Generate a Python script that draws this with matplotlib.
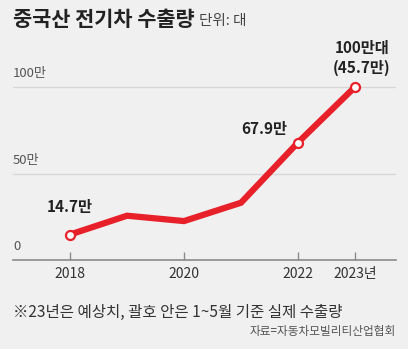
#
# 중국산 전기차 수출량 (line chart, 2018-2023)
#
import matplotlib
matplotlib.use("Agg")
import matplotlib.pyplot as plt

plt.rcParams['font.family'] = ['Noto Sans CJK KR', 'DejaVu Sans']

# data (단위: 만 대)
years = [2018, 2019, 2020, 2021, 2022, 2023]
exports = [14.7, 25.6, 22.5, 33.1, 67.9, 100]
tick_years = [2018, 2020, 2022, 2023]
tick_labels = ["2018", "2020", "2022", "2023년"]
ytick_vals = [0, 50, 100]
ytick_labels = ["0", "50만", "100만"]
marked = {2018: "14.7만", 2022: "67.9만", 2023: "100만대\n(45.7만)"}

bg = "#f0f0f0"
red = "#e8202a"

fig = plt.figure(figsize=(4.08, 3.49), dpi=100, facecolor=bg)
W, H = 408, 349
# axes in pixels: x 13..396, y 60..260
ax = fig.add_axes([13 / W, 1 - 260 / H, (396 - 13) / W, (260 - 60) / H])
ax.set_facecolor("none")
ax.set_xlim(2017.0, 2023.72)
ax.set_ylim(0, 200 / 1.73)

for v in ytick_vals[1:]:
    ax.axhline(v, color="#d6d6d6", lw=0.9, zorder=1)
for v, lab in zip(ytick_vals, ytick_labels):
    ax.annotate(lab, (0, v), xycoords=("axes fraction", "data"),
                xytext=(0, 5), textcoords="offset points",
                ha="left", va="bottom", fontsize=9.5, color="#555555")

ax.plot(years, exports, color=red, lw=4.5, solid_capstyle="butt",
        solid_joinstyle="miter", zorder=3)
mx = [y for y in years if y in marked]
my = [exports[years.index(y)] for y in mx]
ax.plot(mx, my, "o", ms=6.5, mfc="white", mec=red, mew=1.6, zorder=4)

ax.annotate(marked[2018], (2018, 14.7), xytext=(0, 14), textcoords="offset points",
            ha="center", va="bottom", fontsize=11, fontweight="bold", color="#222222")
ax.annotate(marked[2022], (2022, 67.9), xytext=(-24, 4), textcoords="offset points",
            ha="center", va="bottom", fontsize=11, fontweight="bold", color="#222222")
ax.annotate(marked[2023], (2023, 100), xytext=(5, 8), textcoords="offset points",
            ha="center", va="bottom", fontsize=11, fontweight="bold", color="#222222",
            linespacing=1.3)

for s in ["top", "right", "left"]:
    ax.spines[s].set_visible(False)
ax.spines["bottom"].set_color("#8a8a8a")
ax.spines["bottom"].set_linewidth(1.2)
ax.set_yticks([])
ax.set_xticks(tick_years)
ax.set_xticklabels(tick_labels)
ax.tick_params(axis="x", direction="in", length=6, width=1, color="#8a8a8a",
               labelsize=10, labelcolor="#333333", pad=5)

title = fig.text(13 / W, 1 - 19 / H, "중국산 전기차 수출량", fontsize=15, fontweight="bold",
                 color="#222222", ha="left", va="center")
fig.text(199 / W, 1 - 21 / H, "단위: 대", fontsize=10.5, color="#444444",
         ha="left", va="center")
fig.text(13 / W, 1 - 312 / H, "※23년은 예상치, 괄호 안은 1~5월 기준 실제 수출량",
         fontsize=11.2, color="#333333", ha="left", va="center")
fig.text(396 / W, 1 - 332 / H, "자료=자동차모빌리티산업협회",
         fontsize=8.4, color="#555555", ha="right", va="center")

fig.savefig("out.png", dpi=100, facecolor=bg)
